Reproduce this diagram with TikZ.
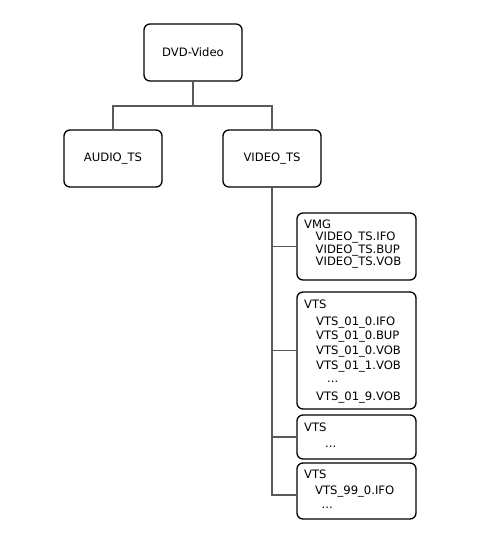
\documentclass[tikz,border=0pt]{standalone}
\usepackage{fontspec}
\setmainfont{DejaVu Sans}
\usetikzlibrary{calc}
\begin{document}
\begin{tikzpicture}[x=1pt,y=-1pt,
  box/.style={draw=black,line width=1.3pt,rounded corners=6pt,inner sep=0pt,fill=white},
  link/.style={draw=black!65,line width=1.2pt},
  txt/.style={inner sep=0pt,anchor=base west,font=\fontsize{11.6}{14}\selectfont}]
\fill[white] (0,0) rectangle (489,545);
\useasboundingbox (0,0) rectangle (489,545);
% main boxes
\node[box,minimum width=98pt,minimum height=57pt,font=\fontsize{11.6}{14}\selectfont] (dvd) at (193,52.5) {DVD-Video};
\node[box,minimum width=98pt,minimum height=57pt,font=\fontsize{11.6}{14}\selectfont] (audio) at (113,158.5) {AUDIO\_TS};
\node[box,minimum width=98pt,minimum height=57pt,font=\fontsize{11.6}{14}\selectfont] (video) at (272,158.5) {VIDEO\_TS};
% list boxes
\node[box,minimum width=119pt,minimum height=67pt] (vmg) at (356.5,246.5) {};
\node[box,minimum width=119pt,minimum height=117pt] (vts1) at (356.5,350.5) {};
\node[box,minimum width=119pt,minimum height=44pt] (vts2) at (356.5,437) {};
\node[box,minimum width=119pt,minimum height=56pt] (vts3) at (356.5,491) {};
% connectors
\coordinate (j) at (193,106);
\draw[link] (dvd.south) -- (j);
\draw[link] (j) -| (audio.north);
\draw[link] (j) -| (video.north);
\draw[link] (video.south) |- (vmg.west);
\draw[link] (video.south) |- (vts1.west);
\draw[link] (video.south) |- (vts2.west);
\coordinate (e3) at ($(vts3.west)+(0,4)$);
\draw[link] (video.south) |- (e3);
% VMG texts
\node[txt] (t1) at (304,228.3) {VMG};
\node[txt] (t2) at (315.5,240.8) {VIDEO\_TS.IFO};
\node[txt] (t3) at (315.5,253.3) {VIDEO\_TS.BUP};
\node[txt] (t4) at (315.5,265.8) {VIDEO\_TS.VOB};
% VTS1 texts
\node[txt] (u1) at (304,308.5) {VTS};
\node[txt] (u2) at (316,325) {VTS\_01\_0.IFO};
\node[txt] (u3) at (316,339) {VTS\_01\_0.BUP};
\node[txt] (u4) at (316,354) {VTS\_01\_0.VOB};
\node[txt] (u5) at (316,369) {VTS\_01\_1.VOB};
\node[txt] (u6) at (327,382) {...};
\node[txt] (u7) at (316,400) {VTS\_01\_9.VOB};
% VTS2 texts
\node[txt] (v1) at (304,431) {VTS};
\node[txt] (v2) at (325,447) {...};
% VTS3 texts
\node[txt] (w1) at (304,478.7) {VTS};
\node[txt] (w2) at (315,494.7) {VTS\_99\_0.IFO};
\node[txt] (w3) at (321.5,508) {...};
\end{tikzpicture}
\end{document}
